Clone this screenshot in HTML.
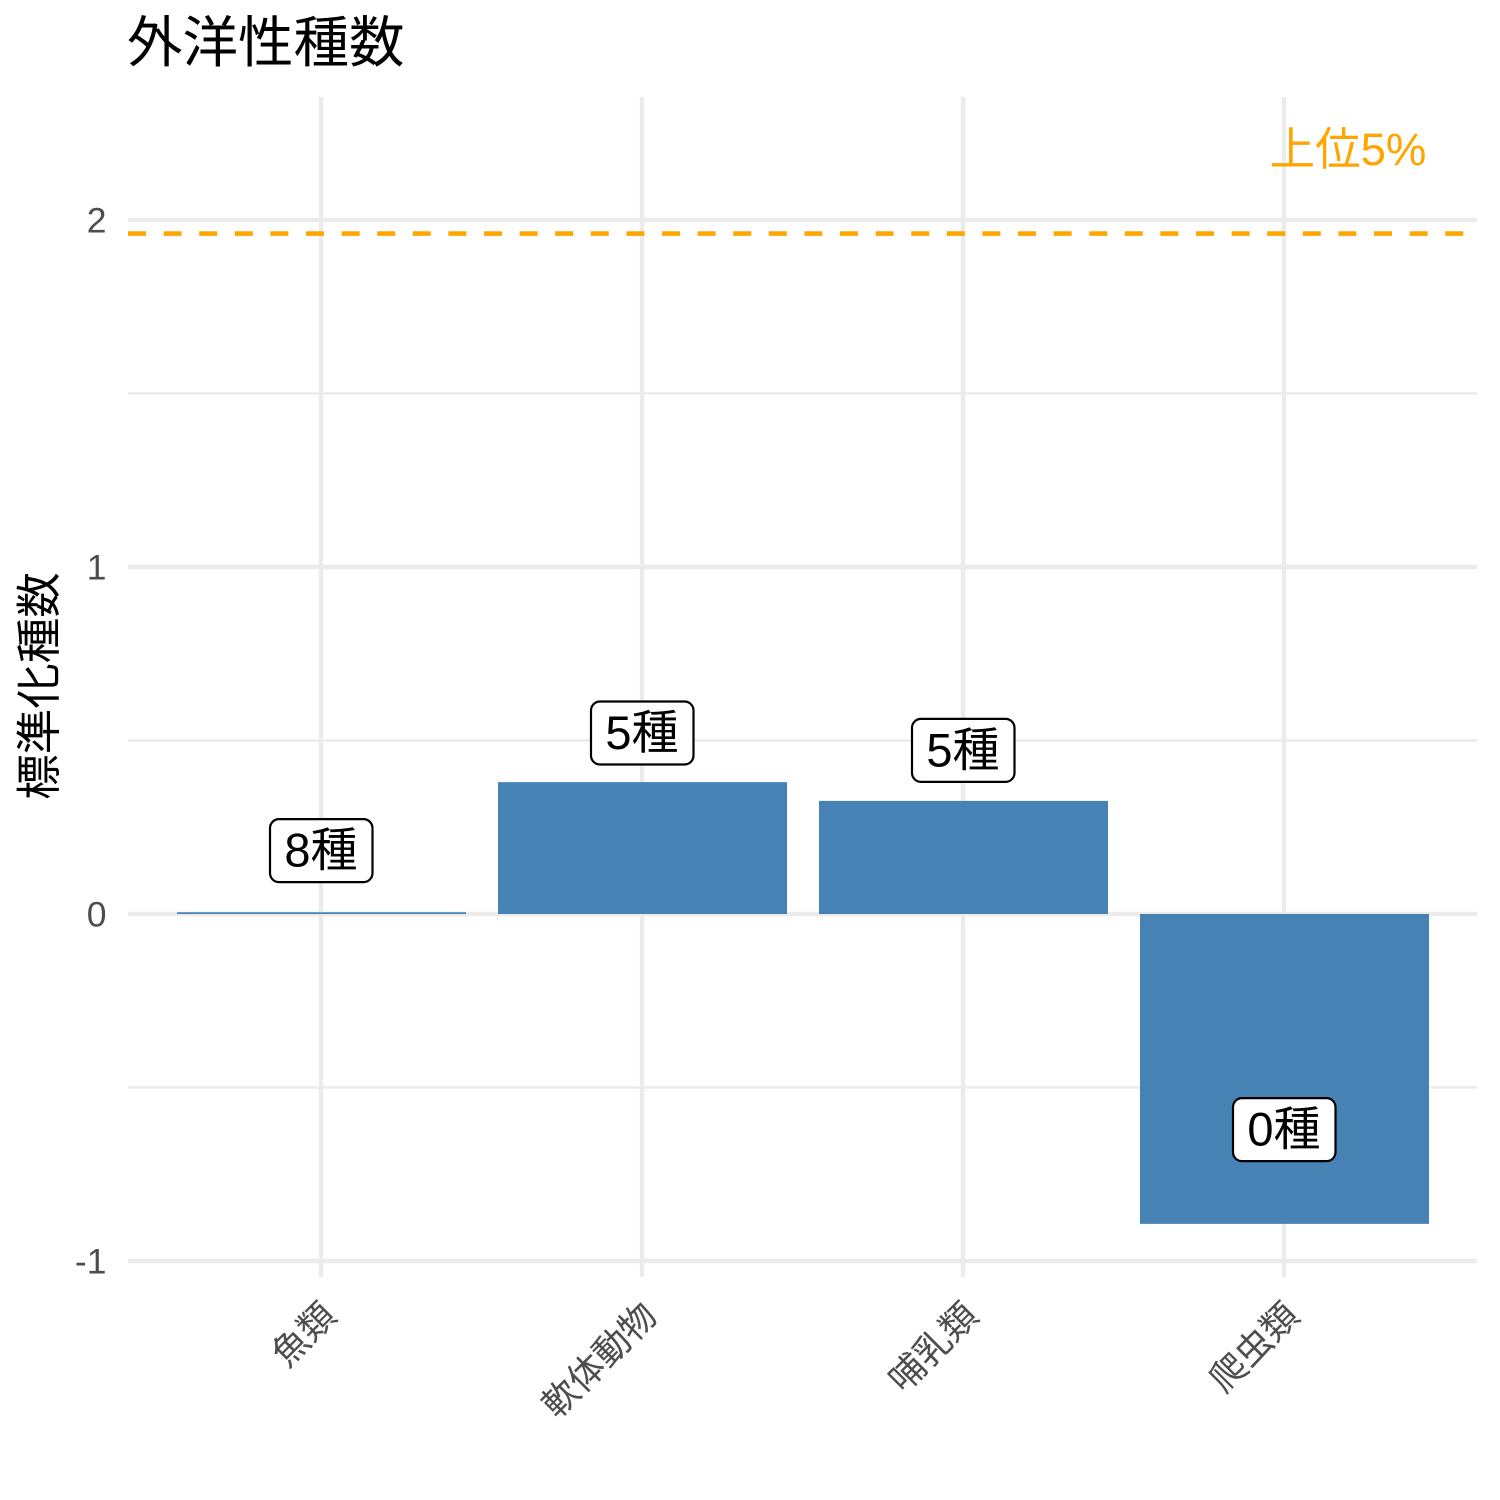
<!DOCTYPE html>
<html lang="ja">
<head>
<meta charset="utf-8">
<title>外洋性種数</title>
<style>
html,body{margin:0;padding:0;background:#fff}
svg{display:block}
text{font-family:"Liberation Sans","Noto Sans CJK JP",sans-serif}
</style>
</head>
<body>
<svg id="chart" xmlns="http://www.w3.org/2000/svg" width="1500" height="1500" viewBox="0 0 1500 1500"></svg>
<script>
const categories = ['魚類', '軟体動物', '哺乳類', '爬虫類'];
const zScores = [0.005, 0.38, 0.326, -0.893];
const labels = ['8種', '5種', '5種', '0種'];
const labelOffsets = [0.179, 0.143, 0.147, 0.273];
const yMajorTicks = [-1, 0, 1, 2];
const yMinorTicks = [-0.5, 0.5, 1.5];
const threshold = 1.961;
const thresholdLabel = '上位5%';

const svg = document.getElementById('chart');
const NS = 'http://www.w3.org/2000/svg';
const panel = {left: 128, right: 1477, top: 97, bottom: 1277};
const yScale = v => 914 - v * 347;
const xScale = i => 321.5 + i * 321;
const barWidth = 289;

function add(tag, attrs, text) {
  const el = document.createElementNS(NS, tag);
  Object.keys(attrs).forEach(k => el.setAttribute(k, attrs[k]));
  if (text !== undefined) el.textContent = text;
  svg.appendChild(el);
  return el;
}

yMinorTicks.forEach(v => {
  const el = add('line', {x1: panel.left, x2: panel.right, y1: yScale(v), y2: yScale(v), stroke: '#ebebeb', 'stroke-width': 2.6});
  
  
});
yMajorTicks.forEach(v => {
  const el = add('line', {x1: panel.left, x2: panel.right, y1: yScale(v), y2: yScale(v), stroke: '#ebebeb', 'stroke-width': 4.4});
  
  
});
categories.forEach((c, i) => {
  const el = add('line', {x1: xScale(i) - 0.5, x2: xScale(i) - 0.5, y1: panel.top, y2: panel.bottom, stroke: '#ebebeb', 'stroke-width': 4.4});
  
  
});

zScores.forEach((v, i) => {
  const y0 = yScale(0), y1 = yScale(v);
  const el = add('rect', {x: xScale(i) - barWidth / 2, y: Math.min(y0, y1), width: barWidth, height: Math.abs(y1 - y0), fill: '#4682b4'});
  
  
});

const thresholdLine = add('line', {x1: panel.left, x2: panel.right, y1: yScale(threshold), y2: yScale(threshold), stroke: '#ffa500', 'stroke-width': 4.6, 'stroke-dasharray': '18 17.6'});



const thresholdText = add('text', {x: 1348, y: 165, 'text-anchor': 'middle', 'font-size': 45.5, fill: '#ffa500'}, thresholdLabel);



labels.forEach((t, i) => {
  const cy = yScale(zScores[i] + labelOffsets[i]);
  const box = add('rect', {x: xScale(i) - 51.5, y: cy - 31, width: 102.5, height: 63, rx: 9, ry: 9, fill: '#fff', stroke: '#000', 'stroke-width': 2.2});
  
  
  const txt = add('text', {x: xScale(i) - 0.5, y: cy + 16.5, 'text-anchor': 'middle', 'font-size': 47, fill: '#000'}, t);
  
  
});

yMajorTicks.forEach(v => {
  const el = add('text', {x: 106.5, y: yScale(v) + 12.5, 'text-anchor': 'end', 'font-size': 35.5, fill: '#4d4d4d'}, String(v));
  
  
});

categories.forEach((c, i) => {
  const ax = xScale(i) + 16.5, ay = 1318;
  const el = add('text', {x: ax, y: ay, 'text-anchor': 'end', 'font-size': 36, fill: '#4d4d4d', transform: 'rotate(-45 ' + ax + ' ' + ay + ')'}, c);
  
  
});

const title = add('text', {x: 127, y: 62, 'font-size': 55.5, fill: '#000'}, '外洋性種数');



const yTitle = add('text', {x: 0, y: 0, 'text-anchor': 'middle', 'font-size': 45.5, fill: '#000', transform: 'translate(55 686) rotate(-90)'}, '標準化種数');


</script>
</body>
</html>
